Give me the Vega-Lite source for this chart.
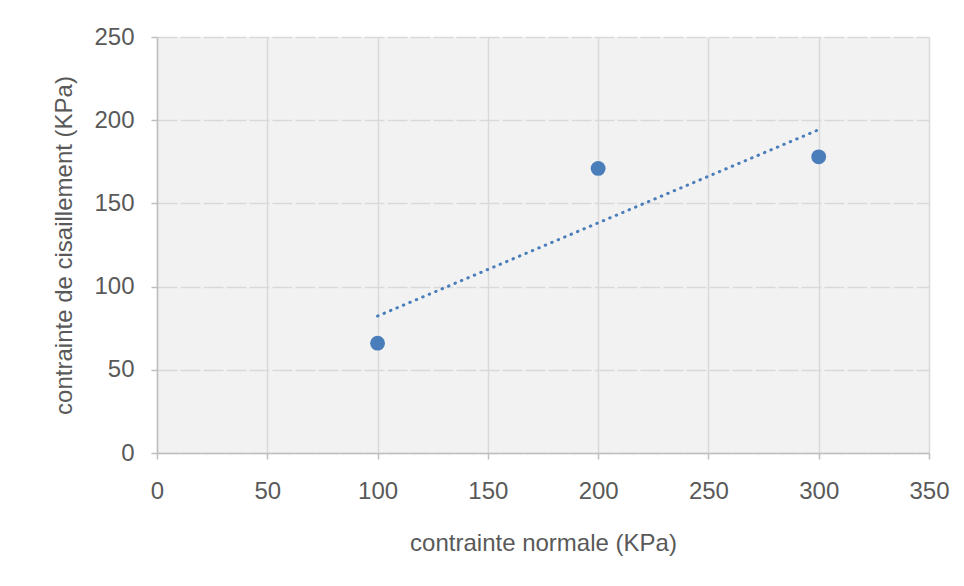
{
  "$schema": "https://vega.github.io/schema/vega-lite/v6.json",
  "autosize": "none",
  "width": 772,
  "height": 416,
  "padding": {"left": 157, "top": 37, "right": 35, "bottom": 133},
  "background": "white",
  "config": {
    "view": {"fill": "#f2f2f2", "stroke": null},
    "font": "Liberation Sans",
    "axis": {
      "labelFont": "Liberation Sans",
      "titleFont": "Liberation Sans",
      "labelFontSize": 24,
      "titleFontSize": 24,
      "titleFontWeight": "normal",
      "labelColor": "#595959",
      "titleColor": "#595959",
      "labelFlush": false,
      "labelOverlap": false,
      "gridColor": "#d9d9d9",
      "gridWidth": 1.5,
      "domainColor": "#bfbfbf",
      "domainWidth": 1.5,
      "tickColor": "#bfbfbf",
      "tickWidth": 1.5,
      "tickSize": 6
    }
  },
  "datasets": {
    "points": [
      {"normale": 100, "cisaillement": 66},
      {"normale": 200, "cisaillement": 171},
      {"normale": 300, "cisaillement": 178}
    ],
    "trend": [
      {"normale": 100, "cisaillement": 82.3},
      {"normale": 300, "cisaillement": 194.3}
    ]
  },
  "layer": [
    {
      "data": {"name": "trend"},
      "mark": {"type": "line", "color": "#4a7ebb", "strokeWidth": 3, "strokeDash": [0.5, 6.5], "strokeCap": "round"},
      "encoding": {
        "x": {"field": "normale", "type": "quantitative"},
        "y": {"field": "cisaillement", "type": "quantitative"}
      }
    },
    {
      "data": {"name": "points"},
      "mark": {"type": "point", "filled": true, "shape": "circle", "size": 220, "color": "#4a7ebb", "opacity": 1},
      "encoding": {
        "x": {
          "field": "normale", "type": "quantitative",
          "scale": {"domain": [0, 350], "nice": false, "zero": true},
          "axis": {"values": [0, 50, 100, 150, 200, 250, 300, 350], "title": "contrainte normale (KPa)", "labelPadding": 20, "titlePadding": 28}
        },
        "y": {
          "field": "cisaillement", "type": "quantitative",
          "scale": {"domain": [0, 250], "nice": false},
          "axis": {"values": [0, 50, 100, 150, 200, 250], "title": "contrainte de cisaillement (KPa)", "gridDash": [20, 3], "labelPadding": 17, "titlePadding": 17}
        }
      }
    }
  ]
}
